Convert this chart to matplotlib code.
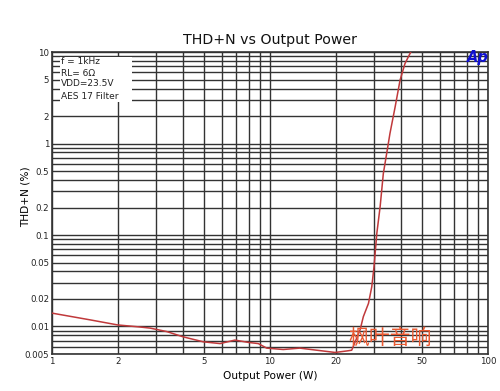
import matplotlib
matplotlib.use("Agg")
import matplotlib.pyplot as plt
from matplotlib.ticker import FixedLocator, FixedFormatter, NullFormatter
from matplotlib.patches import Rectangle

power_w = [1, 1.5, 2, 2.5, 2.82, 3.36, 4.0, 4.94, 5.9, 6.9, 7.95, 8.84, 9.66, 11.5,
           13.7, 16.4, 19.9, 22.5, 23.7, 25.9, 26.8, 28.3, 29.3, 30.0, 30.9, 32.0,
           33.1, 34.5, 35.5, 37.5, 39.5, 41.6, 44.2]
thd_pct = [0.014, 0.0118, 0.0104, 0.0099, 0.0096, 0.0088, 0.0077, 0.0068, 0.0065,
           0.0071, 0.0067, 0.0065, 0.0058, 0.0056, 0.0058, 0.0055, 0.0052, 0.0054,
           0.0055, 0.0092, 0.0128, 0.0179, 0.0272, 0.045, 0.104, 0.204, 0.47, 0.85,
           1.29, 2.52, 4.94, 7.5, 10]

x_ticks = [1, 2, 5, 10, 20, 50, 100]
x_labels = ["1", "2", "5", "10", "20", "50", "100"]
y_ticks = [0.005, 0.01, 0.02, 0.05, 0.1, 0.2, 0.5, 1, 2, 5, 10]
y_labels = ["0.005", "0.01", "0.02", "0.05", "0.1", "0.2", "0.5", "1", "2", "5", "10"]
legend_lines = ["f = 1kHz", "RL= 6\u03a9", "VDD=23.5V", "AES 17 Filter"]

fig = plt.figure(figsize=(5.0, 3.91), dpi=100)
ax = fig.add_axes([0.104, 0.0946, 0.872, 0.772])
ax.set_xscale("log")
ax.set_yscale("log")
ax.set_xlim(1, 100)
ax.set_ylim(0.005, 10)

# grid: every decade subdivision
xg = [m * 10**e for e in range(0, 2) for m in range(1, 10)] + [100]
yg = [m * 10**e for e in range(-3, 1) for m in range(1, 10)] + [10]
for v in xg:
    ax.axvline(v, color="#333333", lw=1.0, zorder=1)
for v in yg:
    if 0.005 <= v <= 10:
        ax.axhline(v, color="#333333", lw=1.0, zorder=1)

ax.xaxis.set_major_locator(FixedLocator(x_ticks))
ax.xaxis.set_major_formatter(FixedFormatter(x_labels))
ax.xaxis.set_minor_formatter(NullFormatter())
ax.yaxis.set_major_locator(FixedLocator(y_ticks))
ax.yaxis.set_major_formatter(FixedFormatter(y_labels))
ax.yaxis.set_minor_formatter(NullFormatter())
ax.tick_params(which="both", length=0, labelsize=6.2, colors="#222222", pad=2)
for s in ax.spines.values():
    s.set_color("#333333")
    s.set_linewidth(1.2)

ax.plot(power_w, thd_pct, color="#c0393b", lw=1.1, zorder=3)

# legend box
ax.add_patch(Rectangle((0.018, 0.835), 0.165, 0.15, transform=ax.transAxes,
                       facecolor="white", edgecolor="none", zorder=2))
ys = [0.97, 0.93, 0.895, 0.852]
for t, yy in zip(legend_lines, ys):
    ax.text(0.021, yy, t, transform=ax.transAxes, fontsize=6.5, va="center",
            ha="left", color="#222222", zorder=4)

ax.text(0.976, 0.983, "Ap", transform=ax.transAxes, fontsize=10.5, fontweight="bold",
        fontstyle="italic", color="#1010d0", ha="center", va="center", zorder=4)

ax.text(0.775, 0.053, "枫叶音响", transform=ax.transAxes, fontsize=15,
        family=["Noto Sans CJK SC", "DejaVu Sans"], color="#ea5a32",
        fontweight="light", ha="center", va="center", zorder=5)

ax.set_title("THD+N vs Output Power", fontsize=10.2, pad=6, color="#111111")
ax.set_xlabel("Output Power (W)", fontsize=7.6, labelpad=4)
ax.set_ylabel("THD+N (%)", fontsize=7.6)
ax.yaxis.set_label_coords(-0.050, 0.52)

fig.savefig("out.png", dpi=100, facecolor="white")
